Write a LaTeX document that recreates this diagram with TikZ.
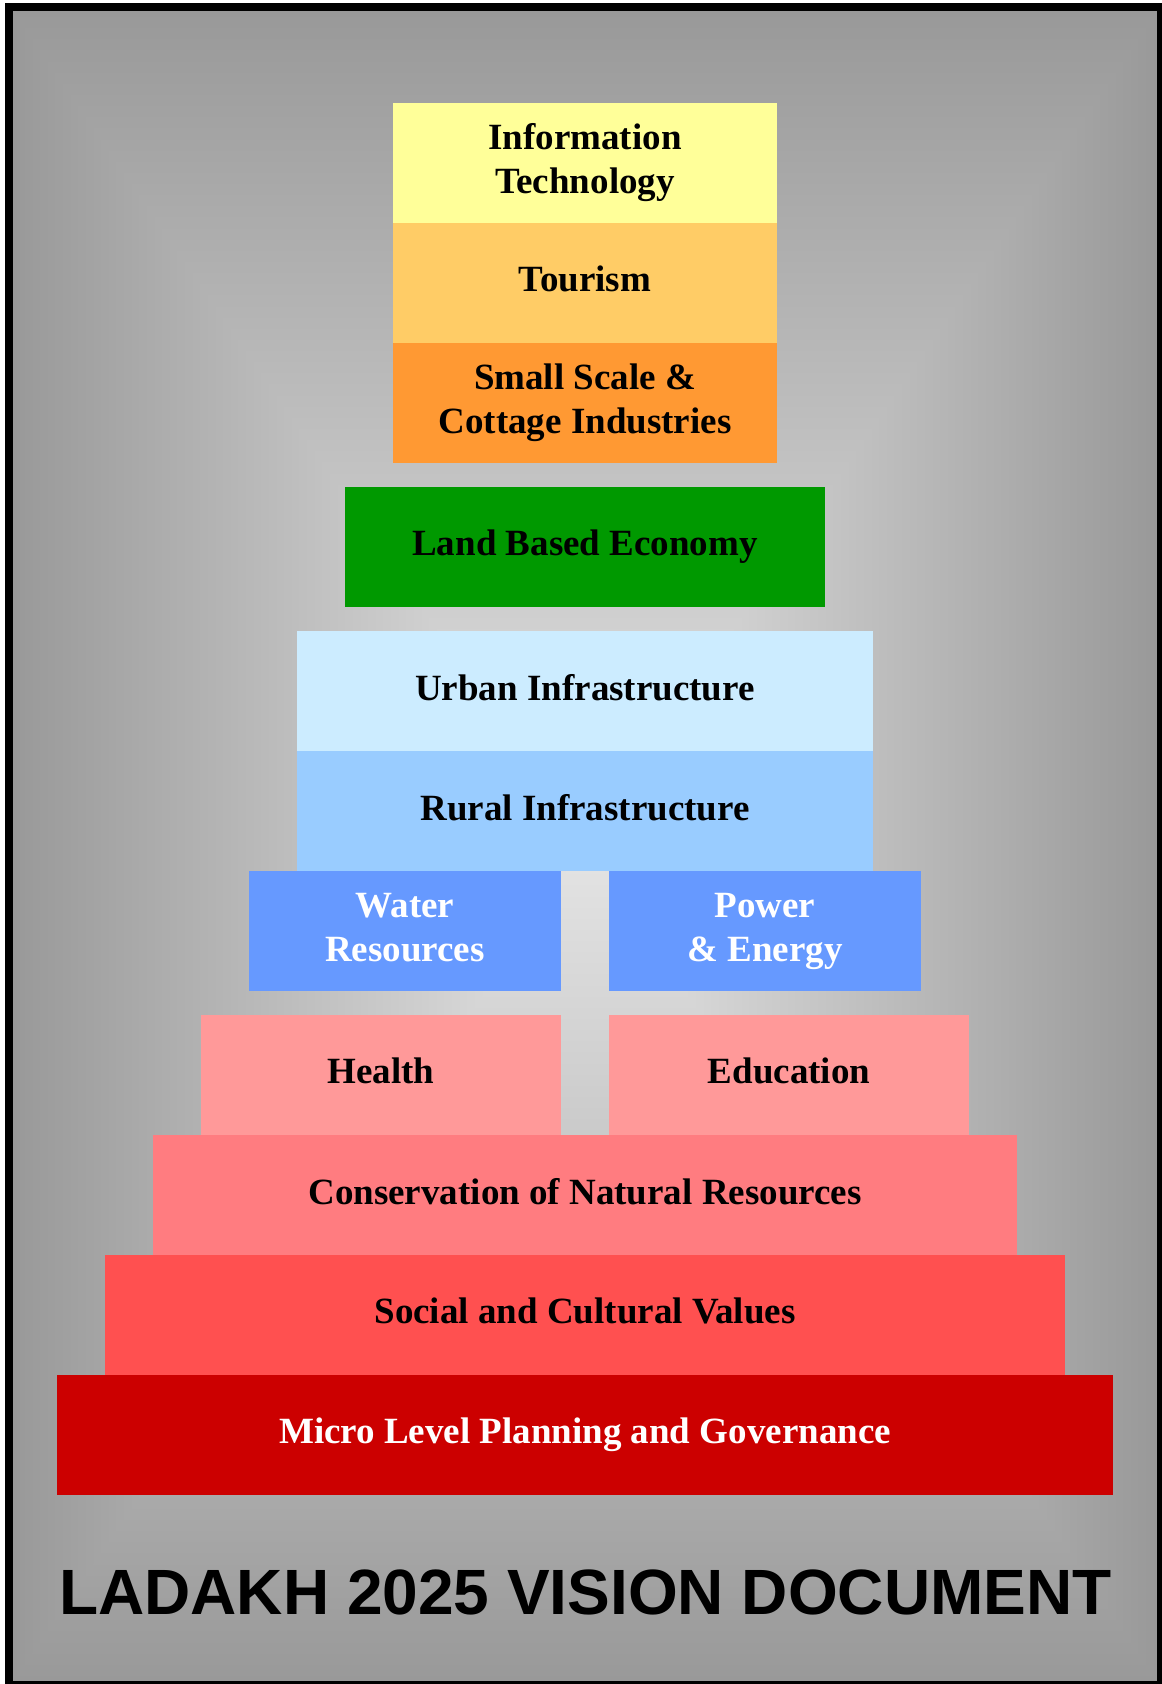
\documentclass[tikz,border=0pt]{standalone}
\usepackage{fontspec}
\setmainfont{Liberation Serif}
\newfontfamily\headfont{Liberation Sans}
\usepackage{xcolor}
\usetikzlibrary{math}
\definecolor{myyellow}{RGB}{255,255,153}
\definecolor{mysand}{RGB}{255,204,102}
\definecolor{myorange}{RGB}{255,153,51}
\definecolor{mygreen}{RGB}{0,153,0}
\definecolor{myice}{RGB}{204,236,255}
\definecolor{mysky}{RGB}{153,204,255}
\definecolor{myblue}{RGB}{102,153,255}
\definecolor{mypink}{RGB}{255,153,153}
\definecolor{mysalmon}{RGB}{255,124,128}
\definecolor{mycoral}{RGB}{255,80,80}
\definecolor{myred}{RGB}{204,0,0}
\definecolor{bgedge}{RGB}{153,153,153}
\definecolor{bgmid}{RGB}{228,228,228}

\begin{document}
\begin{tikzpicture}[x=0.5pt,y=-0.5pt,
  tier/.style={rectangle, inner sep=0pt, outer sep=0pt, minimum height=60pt,
    align=center, font=\bfseries\fontsize{18.5}{22}\selectfont,
    execute at end node=\vphantom{y}},
]
\tikzmath{
\cx=585;
\cy=846;
}
\useasboundingbox (0,0) rectangle (1161,1684);

% grey background, lighter towards the middle
\fill[bgedge] (13,11) rectangle (1157,1681);
\shade[left color=bgedge, right color=bgmid] (13,11) rectangle (\cx,1681);
\shade[left color=bgmid, right color=bgedge] (\cx,11) rectangle (1157,1681);
\shade[top color=bgedge, bottom color=bgmid] (13,11) -- (1157,11) -- (\cx,\cy) -- cycle;
\shade[top color=bgmid, bottom color=bgedge] (13,1681) -- (1157,1681) -- (\cx,\cy) -- cycle;
\draw[line width=4pt] (9,7) rectangle (1161,1685);

% top column
\node[tier, fill=myyellow, minimum width=192pt] (it) at (\cx,163) {Information\\Technology};
\node[tier, fill=mysand, minimum width=192pt] (tour) at (\cx,283) {Tourism};
\node[tier, fill=myorange, minimum width=192pt] (cottage) at (\cx,403) {Small Scale \&\\Cottage Industries};

\node[tier, fill=mygreen, minimum width=240pt] (land) at (\cx,547) {Land Based Economy};

\node[tier, fill=myice, minimum width=288pt] (urban) at (\cx,691) {Urban Infrastructure};
\node[tier, fill=mysky, minimum width=288pt] (rural) at (\cx,811) {Rural Infrastructure};

% split tiers
\node[tier, fill=myblue, text=white, minimum width=156pt] (water) at (405,931) {Water\\Resources};
\node[tier, fill=myblue, text=white, minimum width=156pt] (power) at (765,931) {Power\\\& Energy};
\node[tier, fill=mypink, minimum width=180pt] (health) at (381,1075) {Health};
\node[tier, fill=mypink, minimum width=180pt] (edu) at (789,1075) {Education};

% base
\node[tier, fill=mysalmon, minimum width=432pt] (cons) at (\cx,1195) {Conservation of Natural Resources};
\node[tier, fill=mycoral, minimum width=480pt] (social) at (\cx,1315) {Social and Cultural Values};
\node[tier, fill=myred, text=white, minimum width=528pt] (micro) at (\cx,1435) {Micro Level Planning and Governance};

\node[font=\headfont\bfseries\fontsize{32}{38}\selectfont, anchor=base] (title) at (585.5,1614) {LADAKH 2025 VISION DOCUMENT};
\end{tikzpicture}
\end{document}
